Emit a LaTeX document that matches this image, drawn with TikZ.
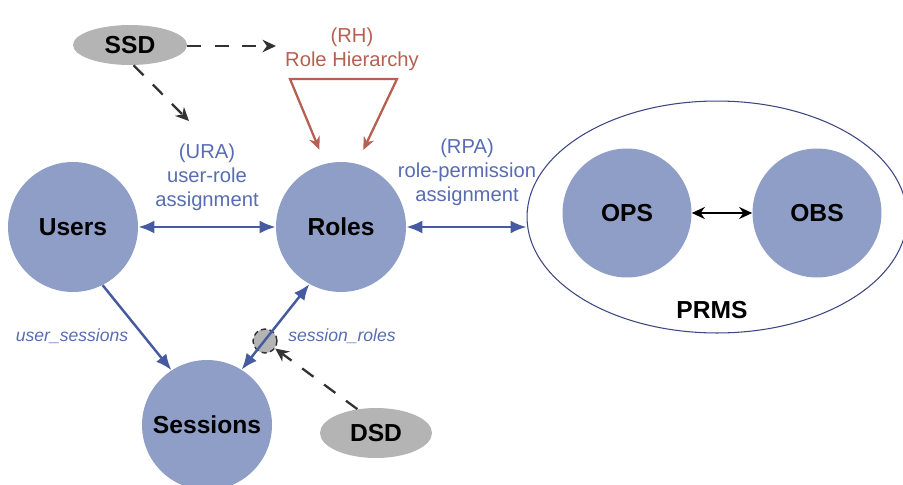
\documentclass[tikz,border=0pt]{standalone}
\usepackage{fontspec}
\setmainfont{Liberation Sans}
\usetikzlibrary{arrows.meta,shapes.geometric}
\definecolor{entityfill}{RGB}{142,158,198}
\definecolor{relblue}{RGB}{70,90,160}
\definecolor{reltext}{RGB}{88,108,178}
\definecolor{rhred}{RGB}{181,96,80}
\definecolor{sdgray}{RGB}{180,180,180}
\definecolor{dashgray}{RGB}{50,50,50}
\definecolor{prmsline}{RGB}{60,70,130}
\tikzset{
	entity/.style={circle, fill=entityfill, minimum size=2.6cm, inner sep=0pt, font=\fontsize{14}{16}\selectfont\bfseries},
	constraint/.style={ellipse, fill=sdgray, inner sep=0pt, font=\fontsize{14}{16}\selectfont\bfseries},
	rellabel/.style={align=center, text=reltext, font=\fontsize{11.5}{13.6}\selectfont},
	funclabel/.style={text=reltext, font=\fontsize{10}{12}\selectfont\itshape},
	relline/.style={line width=1.4pt, draw=relblue, {Latex[length=0.32cm,width=0.26cm]}-{Latex[length=0.32cm,width=0.26cm]}},
	funcline/.style={line width=1.4pt, draw=relblue, -{Latex[length=0.32cm,width=0.26cm]}},
	sdline/.style={line width=1.3pt, draw=dashgray, dash pattern=on 8pt off 7.5pt, -{Stealth[length=0.27cm,width=0.25cm]}},
	rhline/.style={line width=1.3pt, draw=rhred, {Stealth[length=0.26cm,width=0.22cm]}-{Stealth[length=0.26cm,width=0.22cm]}, shorten <=0.3cm, shorten >=0.3cm}
}
\begin{document}
\begin{tikzpicture}[x=0.02cm, y=-0.02cm]
			%%%%% START %%%%%
			\useasboundingbox (0, 0) rectangle (903, 484);
			
			\node[ellipse, draw=prmsline, line width=0.6pt, minimum width=7.6cm, minimum height=4.64cm, inner sep=0pt] (prms) at (717, 217) {};
			\node[font=\fontsize{14}{16}\selectfont\bfseries] (prmslabel) at (712, 310) {PRMS};
			
			\node[entity] (users) at (73, 227) {Users};
			\node[entity] (roles) at (341, 227) {Roles};
			\node[entity] (sessions) at (207, 425) {Sessions};
			\node[entity, minimum size=2.58cm] (ops) at (627, 213) {OPS};
			\node[entity, minimum size=2.58cm] (obs) at (817, 213) {OBS};
			
			\node[constraint, minimum width=2.28cm, minimum height=0.8cm] (ssd) at (130, 45) {SSD};
			\node[constraint, minimum width=2.24cm, minimum height=1cm] (dsd) at (376, 433) {DSD};
			\node[circle, fill=sdgray, draw=dashgray, densely dashed, line width=0.8pt, minimum size=0.48cm, inner sep=0pt] (dsdmark) at (265, 341) {};
			
			\node[rellabel] (ura) at (207, 177) {(URA)\\user-role\\assignment};
			\node[rellabel] (rpa) at (467, 172) {(RPA)\\role-permission\\assignment};
			\node[rellabel, text=rhred] (rh) at (352, 49) {(RH)\\Role Hierarchy};
			\node[funclabel] (usersess) at (72, 336) {user\_sessions};
			\node[funclabel] (sessroles) at (342, 336) {session\_roles};
			
			\coordinate (rhtl) at (290, 79);
			\coordinate (rhtr) at (397, 79);
			\coordinate (ssdright) at (276, 46);
			\coordinate (ssddown) at (189, 121);
			
			\draw[relline] (users) -- (roles);
			\draw[relline] (roles.east) -- (roles.east -| prms.west);
			\draw[line width=1.2pt, {Stealth[length=0.26cm,width=0.24cm]}-{Stealth[length=0.26cm,width=0.24cm]}] (ops) -- (obs);
			\draw[funcline] (users.-63) -- (sessions.123);
			\draw[relline] (sessions.58) -- (roles.-119);
			\draw[rhline] (roles.104) -- (rhtl) -- (rhtr) -- (roles.76);
			
			\draw[sdline] (ssd.east |- ssdright) -- (ssdright);
			\draw[sdline] (ssd.-80) -- (ssddown);
			\draw[sdline] (dsd.128) -- (dsdmark);
			
			%%%%% END %%%%%
		\end{tikzpicture}
\end{document}
